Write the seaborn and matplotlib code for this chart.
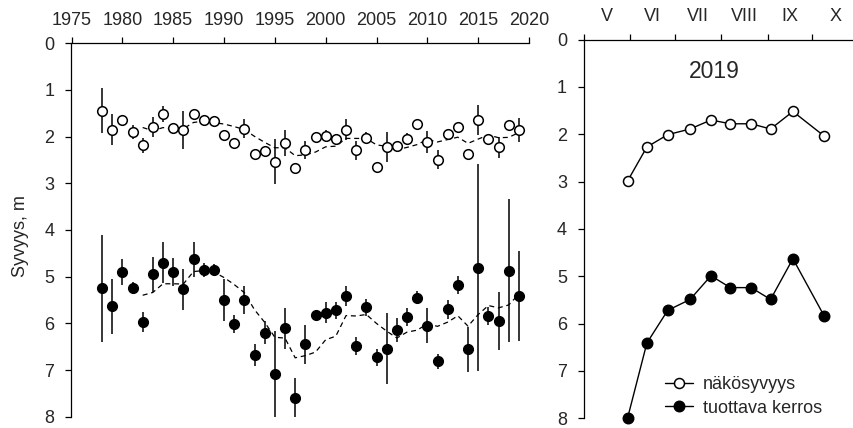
import matplotlib
matplotlib.use("Agg")
import matplotlib.pyplot as plt
import seaborn as sns
import pandas as pd
from matplotlib.ticker import FixedLocator, NullFormatter, FixedFormatter

# ---------------- data ----------------
years = list(range(1978, 2020))
nako = [1.44, 1.85, 1.65, 1.90, 2.18, 1.79, 1.51, 1.81, 1.86, 1.51,
        1.65, 1.67, 1.96, 2.13, 1.83, 2.38, 2.31, 2.54, 2.13, 2.68,
        2.29, 2.01, 1.98, 2.06, 1.85, 2.29, 2.02, 2.66, 2.22, 2.21,
        2.04, 1.72, 2.11, 2.49, 1.95, 1.79, 2.38, 1.65, 2.06, 2.23,
        1.76, 1.86]
nako_err = [0.48, 0.33, 0.08, 0.16, 0.16, 0.21, 0.17, 0.06, 0.41, 0.08,
            0.05, 0.05, 0.06, 0.05, 0.20, 0.05, 0.05, 0.48, 0.28, 0.05,
            0.19, 0.05, 0.12, 0.06, 0.23, 0.20, 0.12, 0.05, 0.32, 0.05,
            0.12, 0.05, 0.23, 0.21, 0.12, 0.06, 0.05, 0.32, 0.06, 0.22,
            0.06, 0.26]
tuot = [5.25, 5.63, 4.90, 5.24, 5.97, 4.95, 4.70, 4.90, 5.27, 4.63,
        4.85, 4.85, 5.49, 6.02, 5.50, 6.68, 6.20, 7.09, 6.11, 7.61,
        6.45, 5.82, 5.77, 5.72, 5.41, 6.49, 5.66, 6.73, 6.54, 6.15,
        5.86, 5.45, 6.05, 6.81, 5.70, 5.18, 6.56, 4.81, 5.84, 5.95,
        4.87, 5.41]
tuot_err = [1.14, 0.59, 0.27, 0.13, 0.22, 0.38, 0.44, 0.29, 0.44, 0.38,
            0.15, 0.12, 0.45, 0.19, 0.29, 0.23, 0.25, 0.92, 0.43, 0.43,
            0.42, 0.08, 0.22, 0.18, 0.21, 0.19, 0.19, 0.19, 0.77, 0.26,
            0.19, 0.14, 0.37, 0.16, 0.21, 0.19, 0.48, 2.22, 0.20, 0.63,
            1.53, 0.97]

dates_2019 = ["2019-05-30", "2019-06-12", "2019-06-26", "2019-07-11",
              "2019-07-25", "2019-08-07", "2019-08-21", "2019-09-03",
              "2019-09-18", "2019-10-09"]
nako_2019 = [2.99, 2.27, 2.01, 1.89, 1.70, 1.78, 1.78, 1.89, 1.52, 2.04]
tuot_2019 = [8.00, 6.41, 5.72, 5.49, 4.99, 5.24, 5.24, 5.49, 4.63, 5.84]

year_ticks = list(range(1975, 2021, 5))
month_labels = ["V", "VI", "VII", "VIII", "IX", "X"]
month_starts = ["2019-05-01", "2019-06-01", "2019-07-01", "2019-08-01",
                "2019-09-01", "2019-10-01"]
label_nako = "näkösyvyys"
label_tuot = "tuottava kerros"

# ---------------- style ----------------
sns.set_style("ticks")
plt.rcParams["font.family"] = ["Liberation Sans", "DejaVu Sans"]
FS = 13

df = pd.DataFrame({"vuosi": years, "nako": nako, "nako_err": nako_err,
                   "tuot": tuot, "tuot_err": tuot_err})
df["nako_ka"] = df["nako"].rolling(5).mean()
df["tuot_ka"] = df["tuot"].rolling(5).mean()

d19 = pd.DataFrame({"pvm": pd.to_datetime(dates_2019),
                    "nako": nako_2019, "tuot": tuot_2019})
d19["doy"] = d19["pvm"].dt.dayofyear
ms = pd.to_datetime(month_starts).dayofyear.tolist()
mids = [(a + b) / 2 for a, b in zip(ms, ms[1:] + [305])]

W, H = 854, 428
fig = plt.figure(figsize=(W / 100, H / 100), dpi=100)
ax1 = fig.add_axes([71.5 / W, 1 - 416.7 / H, (529 - 71.5) / W, (416.7 - 43.3) / H])
ax2 = fig.add_axes([584.3 / W, 1 - 418.3 / H, (W - 584.3) / W, (418.3 - 39.5) / H])

# ---------------- left panel ----------------
for col, err in [("nako", "nako_err"), ("tuot", "tuot_err")]:
    ax1.errorbar(df["vuosi"], df[col], yerr=df[err], fmt="none",
                 ecolor="black", elinewidth=1.1, capsize=0, zorder=2)
for col in ["nako_ka", "tuot_ka"]:
    sns.lineplot(data=df.dropna(subset=[col]), x="vuosi", y=col, ax=ax1,
                 color="black", lw=0.9, linestyle=(0, (4, 3)), zorder=1)
sns.scatterplot(data=df, x="vuosi", y="nako", ax=ax1, color="white",
                edgecolor="black", s=48, linewidth=1.1, zorder=3)
sns.scatterplot(data=df, x="vuosi", y="tuot", ax=ax1, color="black",
                edgecolor="black", s=52, linewidth=0.8, zorder=3)

ax1.set_xlim(1975, 2020)
ax1.set_ylim(8, 0)
ax1.set_xticks(year_ticks)
ax1.set_yticks(range(0, 9))
ax1.set_xlabel("")
ax1.set_ylabel("Syvyys, m", fontsize=FS)
ax1.yaxis.set_label_coords(-0.0933, 0.484)

# ---------------- right panel ----------------
sns.lineplot(data=d19, x="doy", y="nako", ax=ax2, color="black", lw=1.0,
             marker="o", markersize=7.2, markerfacecolor="white",
             markeredgecolor="black", markeredgewidth=1.1, label=label_nako,
             clip_on=False)
sns.lineplot(data=d19, x="doy", y="tuot", ax=ax2, color="black", lw=1.0,
             marker="o", markersize=7.6, markerfacecolor="black",
             markeredgecolor="black", markeredgewidth=1.0, label=label_tuot,
             clip_on=False)
ax2.set_xlim(121, 302)
ax2.set_ylim(8, 0)
ax2.set_yticks(range(0, 9))
ax2.xaxis.set_major_locator(FixedLocator(ms))
ax2.xaxis.set_major_formatter(NullFormatter())
ax2.xaxis.set_minor_locator(FixedLocator(mids))
ax2.xaxis.set_minor_formatter(FixedFormatter(month_labels))
ax2.set_xlabel("")
ax2.set_ylabel("")
ax2.text(0.4835, 0.916, "2019", transform=ax2.transAxes, ha="center",
         va="center", fontsize=16.5)
h, l = ax2.get_legend_handles_labels()
ax2.legend(h, l, loc="center left", bbox_to_anchor=(0.299, 0.0578),
           frameon=False, fontsize=FS, handlelength=1.55, handletextpad=0.55,
           borderpad=0, borderaxespad=0, labelspacing=0.35)

# ---------------- common axis styling ----------------
for ax in (ax1, ax2):
    sns.despine(ax=ax, top=False, right=True, bottom=True, left=False)
    for s in ("top", "left"):
        ax.spines[s].set_color("black")
        ax.spines[s].set_linewidth(0.9)
    ax.xaxis.tick_top()
    ax.tick_params(axis="x", which="major", top=True, bottom=False,
                   labeltop=True, labelbottom=False, direction="out",
                   length=4, width=0.9, color="black", labelsize=FS, pad=6.5)
    ax.tick_params(axis="x", which="minor", top=True, bottom=False,
                   labeltop=True, labelbottom=False, length=0,
                   labelsize=FS, pad=6.5 + 4)
    ax.tick_params(axis="y", direction="out", length=4, width=0.9,
                   color="black", labelsize=FS, pad=8.5, left=True)

fig.savefig("out.png", dpi=100)
